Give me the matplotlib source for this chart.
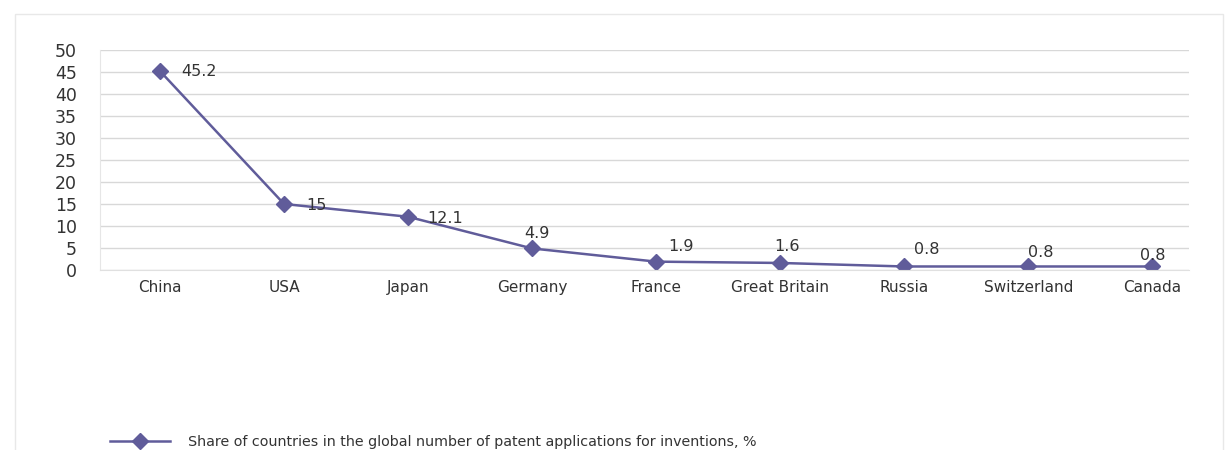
import matplotlib.pyplot as plt
from matplotlib.patches import Rectangle

countries = ['China', 'USA', 'Japan', 'Germany', 'France', 'Great Britain', 'Russia', 'Switzerland', 'Canada']
shares = [45.2, 15, 12.1, 4.9, 1.9, 1.6, 0.8, 0.8, 0.8]
labels = ['45.2', '15', '12.1', '4.9', '1.9', '1.6', '0.8', '0.8', '0.8']
# label offsets in points (left-aligned)
offsets = [(15, 0), (16, -1), (14, -1), (-6, 11), (9, 11), (-4, 12), (7, 12), (0, 10), (-9, 8)]

plt.rcParams['font.family'] = ['DejaVu Sans']

fig = plt.figure(figsize=(12.25, 4.5), dpi=100)
ax = fig.add_axes([0.082, 0.4, 0.889, 0.489])

color = '#605c9a'
x = list(range(len(countries)))
line, = ax.plot(x, shares, color=color, lw=1.8, marker='D', markersize=8.5,
                label='Share of countries in the global number of patent applications for inventions, %')

for i, (v, t) in enumerate(zip(shares, labels)):
    ax.annotate(t, (i, v), xytext=offsets[i], textcoords='offset points',
                ha='left', va='center', fontsize=11.5, color='#333333')

ax.set_ylim(0, 50)
ax.set_yticks(range(0, 51, 5))
ax.set_xlim(-0.48, 8.3)
ax.set_xticks(x)
ax.set_xticklabels(countries, fontsize=11, color='#333333')
ax.tick_params(axis='x', length=0, pad=7)
ax.tick_params(axis='y', length=0, labelsize=12.5, labelcolor='#333333', pad=17)
ax.grid(axis='y', color='#d8d8d8', lw=1)
for s in ax.spines.values():
    s.set_visible(False)
ax.spines['bottom'].set_visible(True)
ax.spines['bottom'].set_color('#e0e0e0')
ax.spines['left'].set_visible(True)
ax.spines['left'].set_color('#e6e6e6')

fig.legend(handles=[line], loc='center left', bbox_to_anchor=(0.079, 0.018), frameon=False,
           fontsize=10.3, handlelength=4.2, handletextpad=1.3, labelcolor='#333333')

fig.patches.append(Rectangle((0.012, -0.01), 0.986, 0.979, transform=fig.transFigure,
                             fill=False, edgecolor='#e8e8e8', lw=1))

fig.savefig('out.png', dpi=100)
